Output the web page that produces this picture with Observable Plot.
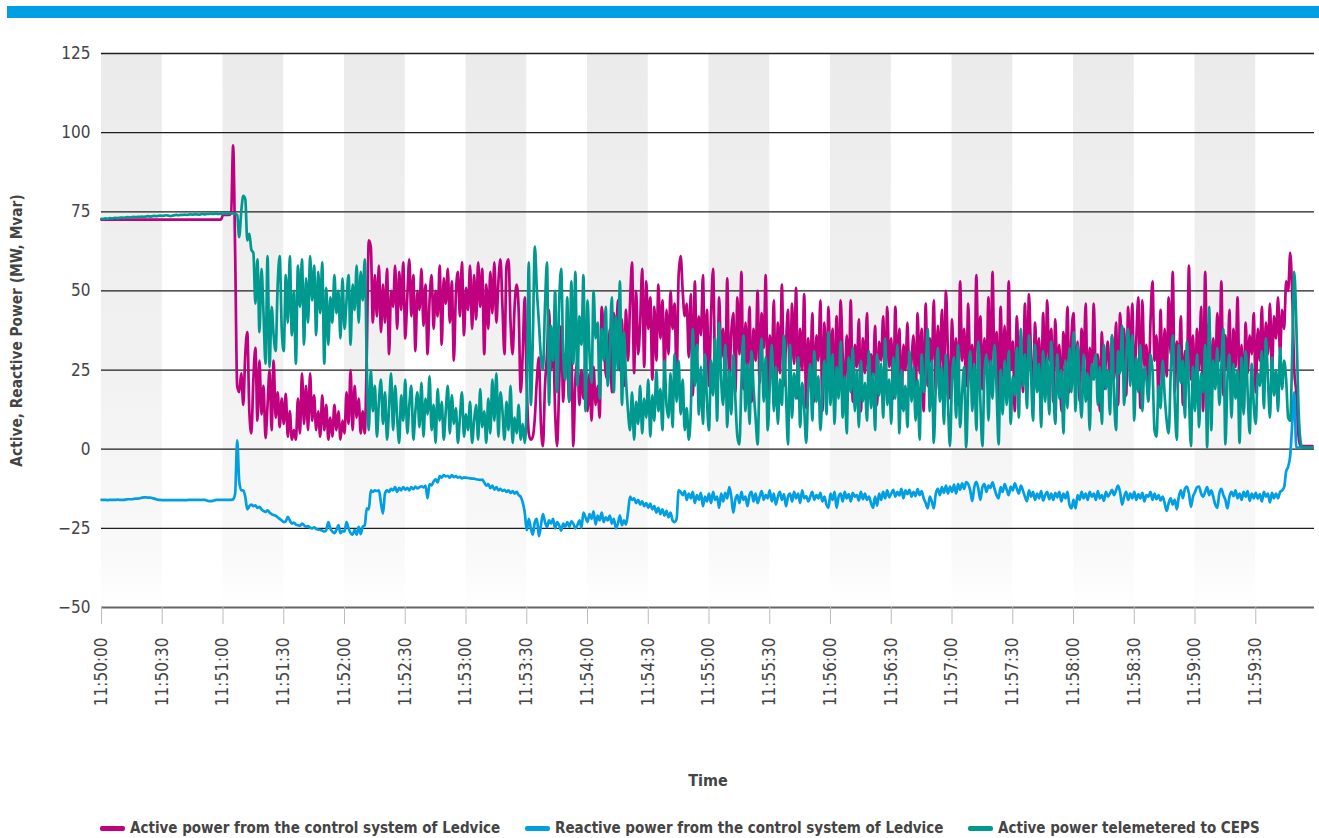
<!DOCTYPE html>
<html><head><meta charset="utf-8">
<script src="https://cdn.jsdelivr.net/npm/d3@7"></script>
<script src="https://cdn.jsdelivr.net/npm/@observablehq/plot@0.6"></script>
<style>
body{margin:0;background:#fff;font-family:"DejaVu Sans Condensed",sans-serif;}
#wrap{position:relative;width:1319px;height:838px;overflow:hidden;}
#bar{position:absolute;left:7px;top:6px;width:1312px;height:12px;background:#009fe3;z-index:2;}
#chart{position:absolute;left:0;top:0;}
.leg{position:absolute;top:818px;height:20px;font-size:15px;font-weight:bold;color:#444;white-space:nowrap;line-height:20px;}
.sw{position:absolute;top:8px;width:25px;height:5px;border-radius:2px;}
.leg span.t{position:absolute;left:30px;top:0;}
g[aria-label="x-axis label"] text{font-weight:bold;font-size:16px;}
g[aria-label="y-axis label"] text{font-weight:bold;font-size:15.3px;}
</style></head><body>
<div id="wrap"><div id="bar"></div><div id="chart"></div><div id="legend"></div></div>
<script>
const startTime = "11:50:00";
const endTime = "11:59:59";
const sampleSeconds = 1;
const tickLabels = ["11:50:00","11:50:30","11:51:00","11:51:30","11:52:00","11:52:30","11:53:00","11:53:30","11:54:00","11:54:30","11:55:00","11:55:30","11:56:00","11:56:30","11:57:00","11:57:30","11:58:00","11:58:30","11:59:00","11:59:30"];
const stripeStarts = ["11:50:00","11:51:00","11:52:00","11:53:00","11:54:00","11:55:00","11:56:00","11:57:00","11:58:00","11:59:00"];
const yTicks = [-50,-25,0,25,50,75,100,125];
const seriesNames = ["Active power from the control system of Ledvice","Reactive power from the control system of Ledvice","Active power telemetered to CEPS"];
const seriesColors = ["#bf007f","#009fe3","#00998f"];

const activeLedvice = [
72.5,72.5,72.5,72.5,72.5,72.5,72.5,72.5,72.5,72.5,
72.5,72.5,72.5,72.5,72.5,72.5,72.5,72.5,72.5,72.5,
72.5,72.5,72.5,72.5,72.5,72.5,72.5,72.5,72.5,72.5,
72.5,72.5,72.5,72.5,72.5,72.5,72.5,72.5,72.5,72.5,
72.5,72.5,72.5,72.5,72.5,72.5,72.5,72.5,72.5,72.5,
72.5,72.5,72.5,72.5,72.5,72.5,72.5,72.5,72.5,72.5,
74,74,74,74,74.5,96,62,20,18,24,
14,30,37,12,5,22,32,9,28,11,
20,3.5,14,25,6,28,10,18,7,16,
8,17.5,4,12,3,6,3,16,5,24,
8,20,6,24,9,17,6,12,4,17,
6,14,3,10,4,14,6,12,3,9,
5,18,8,25,6,20,10,16,5,12,
5,30,66,64,40,55,42,58,37,52,
40,57,30,50,45,58,38,56,44,59,
35,48,60,42,55,31,50,44,57,39,
52,30,47,55,38,50,42,58,33,54,
46,57,40,53,28,49,56,42,59,36,
51,44,58,38,55,41,59,45,57,30,
52,38,56,43,59,40,53,60,45,30,
58,60,40,30,45,52,44,18,30,48,
20,5,3,4,10,22,29,8,1,20,
30,44,25,35,12,1,20,39,15,30,
27,15,30,1,22,28,14,25,16,28,
12,24,9,26,14,20,10,45,36,24,
22,38,18,43,30,47,25,41,20,44,
28,46,59,24,50,30,40,57,26,53,
38,48,22,45,28,52,35,47,24,44,
30,50,38,46,22,55,61,50,42,46,
29,49,17,53,30,42,36,55,27,44,
20,42,57,25,16,48,29,38,20,54,
22,37,43,18,48,30,56,19,40,26,
45,15,38,28,50,21,43,32,55,17,
36,26,47,14,40,24,52,20,33,44,
18,46,27,51,16,38,25,49,13,35,
22,43,15,36,28,47,12,40,19,45,
24,38,14,42,20,47,30,18,36,22,
47,15,33,26,41,12,35,24,43,17,
30,22,39,14,34,28,42,18,45,26,
35,16,45,22,38,13,33,25,40,19,
28,36,15,43,24,38,12,46,20,35,
27,47,18,39,25,44,21,50,30,16,
41,24,35,14,53,28,38,20,46,25,
33,15,55,30,42,19,35,24,48,20,
56,26,37,15,45,22,39,18,53,25,
34,12,42,28,36,18,46,22,49,30,
17,40,26,35,14,43,20,47,28,38,
15,41,24,33,12,37,26,45,18,36,
43,20,34,15,38,27,46,17,32,22,
46,25,30,12,37,19,28,34,16,36,
22,40,14,43,29,38,17,45,25,46,
20,35,48,13,47,26,33,18,40,53,
28,36,15,44,20,38,23,48,30,56,
18,34,26,42,14,31,24,58,22,36,
16,38,25,45,12,56,29,40,19,35,
23,43,28,53,17,36,25,44,14,38,
26,48,20,33,12,40,24,36,30,43,
18,38,28,45,22,40,30,46,25,42,
35,48,30,44,38,53,50,62,49,25,
18,5,1,1,1,1,1,1,1
];

const reactiveLedvice = [
-16,-16,-16,-16.1,-16,-16,-16,-16,-15.9,-16,
-16,-16,-15.9,-15.8,-15.8,-15.8,-15.7,-15.6,-15.6,-15.5,
-15.3,-15.2,-15.2,-15.3,-15.3,-15.4,-15.6,-15.8,-16,-16,
-16.1,-16.1,-16.1,-16.1,-16.1,-16.1,-16.1,-16.1,-16.1,-16.1,
-16.1,-16.1,-16.1,-16,-16,-16,-16,-16,-16,-16,
-16,-16,-16.2,-16.4,-16.4,-16.3,-16.1,-16,-16,-16,
-16,-16,-16,-16,-16,-15.8,-14,2.8,-10,-13,
-13,-15,-19,-18,-17.5,-18,-17.7,-18.5,-18.2,-19,
-19.5,-19.8,-19.3,-20,-20.5,-20.8,-21,-21.5,-22,-22.5,
-23,-22.8,-21.4,-22.5,-23.5,-23.2,-23.8,-24,-24.2,-23.5,
-24,-24.5,-24.3,-24.8,-25,-24.7,-25.2,-25.4,-25.5,-25.7,
-26,-25.5,-23,-25,-26,-26.5,-25.5,-24,-26.5,-25.8,
-26,-23,-25,-26.5,-27,-25.5,-27,-24.5,-26.8,-24.5,
-24,-18.7,-19,-13,-13.5,-13,-13.2,-13,-17,-20.3,
-14,-13,-13.5,-12.5,-13,-12,-13.5,-12.2,-13,-12,
-12.8,-12.2,-13,-12,-12.6,-11.8,-12.4,-12,-11.7,-12.1,
-11.5,-15.5,-11,-11.4,-10.2,-9.5,-10.5,-8.5,-9,-8.2,
-8.6,-8.4,-9,-8.2,-8.8,-8.5,-9,-8.7,-9.2,-8.9,
-9,-9.1,-9.2,-9.3,-9.3,-9.5,-9.6,-9.7,-9.6,-10.5,
-11.5,-11,-12.3,-11.5,-12.8,-12,-13,-12.5,-13.2,-12.8,
-13.5,-13,-13.8,-13.2,-14,-13.5,-14.5,-15,-16.8,-20,
-25.6,-22,-25,-27,-23,-22,-27.5,-24,-20.5,-23,
-24.6,-22.5,-23.5,-22,-25,-23,-24,-25.7,-23.5,-24.5,
-23,-24.5,-22.8,-23.5,-25,-24,-22.5,-24.8,-20,-21.5,
-23,-20.5,-22,-19.6,-23.8,-21,-22.5,-20,-23,-21.5,
-22.5,-21,-23.5,-22,-25,-23.5,-21,-24,-22.5,-23.8,
-20,-15,-16,-15.5,-17,-16,-17.5,-16.5,-18,-17,
-18.5,-17.2,-19,-18,-20,-18.5,-20.5,-19,-21,-19.5,
-21.5,-20,-22.5,-23,-22,-13,-13.5,-14.5,-13.2,-16,
-14,-15.5,-13.5,-17,-14.5,-16,-13.8,-18,-15,-16.5,
-14,-17,-13.5,-16,-15,-18.5,-14,-16.5,-13.8,-15.5,
-12,-15,-20,-16,-14.5,-17,-13.5,-16,-15,-18,
-14.5,-13.5,-16.5,-14,-17,-15,-13.2,-16,-14.5,-15.5,
-13,-16.5,-14,-17.5,-15,-13.5,-16,-14.2,-18,-15,
-14,-16.5,-13.5,-15.5,-14,-17,-13,-15.5,-14.8,-16.5,
-15,-13.5,-16,-14.5,-15.5,-13.8,-16.5,-15,-17.5,-18.5,
-14,-16,-13.5,-18.5,-15,-14,-16.5,-13.5,-15.5,-14.2,
-16.5,-13.8,-15,-14.5,-16.2,-13.5,-15.8,-14,-16,-15,
-17,-18.5,-15,-17.8,-14,-16,-13.5,-15.5,-13,-15.2,
-14,-12.8,-15,-13.5,-14.6,-12.5,-15.5,-13,-14.2,-12.8,
-15,-13.5,-14.8,-12.6,-14.5,-13.2,-15.5,-17,-18.7,-15,
-16.5,-18.7,-14,-12.5,-14.5,-12,-13.8,-11.5,-14,-11.8,
-13.5,-11.2,-14,-11,-12.8,-10.8,-12.5,-10.4,-11,-13,
-16.4,-12,-10.3,-12.5,-16,-12,-11,-13.5,-11.5,-12.2,
-10.5,-12.5,-14.5,-15.5,-12,-13.5,-11,-12.8,-14.5,-11.8,
-13,-10.8,-12.5,-14,-11.5,-13,-15,-16.4,-13,-15,
-13.5,-16,-14,-15.5,-13.2,-16.2,-14.5,-13.5,-15.8,-14,
-16,-13.8,-15.2,-13.5,-16.5,-14,-15.5,-13.5,-17.5,-18.7,
-16,-18.7,-14.5,-16,-13.5,-15.5,-14,-16,-13.5,-15,
-14,-16,-13.2,-15.5,-14.5,-16.3,-13.5,-15,-14,-12.8,
-14.5,-13,-11.5,-13.5,-17.5,-15,-13.5,-16,-14,-15.5,
-13.5,-16,-14.2,-15.5,-13.8,-16.5,-14.5,-15,-13.5,-16,
-14,-15.8,-14.5,-16.2,-15,-17,-19.5,-17,-15.5,-17.5,
-16,-19,-15,-13,-15.5,-12.5,-11.8,-14,-18.2,-15,
-13.5,-12,-11.8,-14,-15,-13.5,-12,-14.5,-13,-15,
-17.5,-18.5,-14,-12.5,-14.5,-16,-18.7,-15,-13.5,-14.8,
-13,-15.5,-14,-16,-13.5,-15,-13.2,-16.3,-14,-15.5,
-13.8,-15.6,-14.2,-16.5,-13.5,-15,-14,-16.8,-13.8,-15.5,
-14,-15.5,-13.5,-13,-12,-7,-5.5,-2,8,18,
0.5,0.5,0.5,0.5,0.5,0.5,0.5,0.5,0.5
];

const activeCeps = [
72.8,72.8,72.9,72.8,73,72.9,73,73.1,73,73.1,
73.2,73.1,73.2,73.3,73.2,73.3,73.4,73.3,73.4,73.4,
73.5,73.4,73.5,73.6,73.5,73.6,73.7,73.6,73.7,73.8,
73.7,73.8,73.9,73.8,73.6,73.8,73.9,74,73.9,74,
74,74.1,74,74.1,74.2,74.1,74.2,74.2,74.1,74.2,
74.3,74.2,74.3,74.3,74.4,74.3,74.4,74.4,74.3,74.4,
74.4,74.5,74.4,74.5,74.5,74.5,74.4,74,67,75,
80,79,66,68,63,62,46,60,37,57,
43,27,61,26,45,36,31,52,61,38,
31,55,40,61,36,50,27,58,45,60,
33,54,40,61,47,58,36,56,43,59,
27,51,33,48,40,55,43,50,35,54,
38,47,55,33,52,44,58,40,56,47,
60,27,6,25,12,20,4,15,22,8,
18,3,13,24,6,20,10,2,17,9,
22,5,14,20,3,12,18,7,21,4,
16,11,23,6,14,2,19,9,15,3,
12,20,5,17,8,13,2,10,18,4,
11,6,15,2,9,14,3,19,7,12,
2,16,5,22,9,24,4,18,12,3,
15,6,20,2,10,5,14,3,8,2,
15,59,14,35,64,50,40,29,25,45,
59,14,39,28,50,18,46,57,30,22,
48,15,53,27,56,20,42,33,55,12,
47,30,21,50,35,40,16,38,28,45,
20,31,48,18,42,25,53,14,37,22,
12,6,18,3,15,8,20,5,16,10,
22,4,17,9,25,12,19,6,28,14,
10,24,7,30,15,28,11,22,6,13,
3,12,38,20,33,11,26,8,30,15,
6,28,17,35,9,40,22,14,33,7,
25,11,30,16,4,1.5,21,36,12,27,
8,31,19,10,1.5,24,35,15,29,6,
20,33,12,26,8,22,14,36,18,1.5,
33,10,24,16,29,7,21,13,2,19,
27,9,31,15,23,6,18,28,11,37,
14,30,8,26,16,34,10,23,5,29,
18,32,12,25,7,28,15,21,9,31,
13,24,6,30,17,27,10,35,14,22,
8,29,16,33,5,25,12,20,7,31,
15,26,9,22,3,30,18,24,38,12,
28,2,20,32,15,26,8,30,14,1,
22,29,10,33,7,18,26,0.5,20,31,
12,27,6,34,15,1,24,30,9,28,
16,33,19,1.5,25,11,28,14,31,8,
23,17,32,10,38,20,30,13,36,24,
9,33,18,27,7,31,15,29,11,34,
20,8,30,16,25,5,28,13,32,18,
37,12,33,20,10,30,15,24,6,27,
22,30,14,26,8,33,19,25,11,36,
17,6,31,24,39,14,28,38,20,36,
9,29,18,33,12,26,22,15,30,25,
6,4,20,13,28,17,9,5,24,36,
15,3,33,21,28,10,34,17,1,26,
12,30,7,24,18,33,0.5,45,6,28,
19,32,14,26,38,1.5,22,30,10,27,
16,25,2,29,11,31,18,5,27,14,
8,24,20,31,13,35,22,10,29,17,
25,12,32,19,28,22,10,9,30,56,
40,15,3,0.5,0.5,0.5,0.5,0.5,0.5
];

const toDate = s => { const [h,m,sec] = s.split(":").map(Number); return new Date(Date.UTC(2020,0,1,h,m,sec)); };
const t0 = toDate(startTime);
const rows = (vals, name) => vals.map((v,i)=>({time:new Date(+t0 + i*sampleSeconds*1000), value:v, series:name}));
const allSeries = [activeLedvice, reactiveLedvice, activeCeps].map((vals,k)=>rows(vals, seriesNames[k]));
const stripes = stripeStarts.map(s => ({x1: toDate(s), x2: new Date(+toDate(s) + 30000)}));
const tickDates = tickLabels.map(toDate);
const fontFam = "'DejaVu Sans Condensed',sans-serif";

const chart = Plot.plot({
  width: 1319, height: 800,
  marginLeft: 101, marginRight: 5, marginTop: 53, marginBottom: 193,
  style: {fontFamily: fontFam, fontSize: "17px", color: "#444", background: "transparent", overflow: "visible"},
  x: {type: "utc", domain: [toDate(startTime), toDate(endTime)]},
  y: {domain: [-50, 125]},
  marks: [
    Plot.rect(stripes, {x1: "x1", x2: "x2", y1: -50, y2: 125, fill: "url(#stripeFade)"}),
    Plot.ruleY(yTicks.filter(d => d > -50), {stroke: "#1e1e1e", strokeWidth: 1.3}),
    Plot.ruleY([-50], {stroke: "#666", strokeWidth: 2}),
    Plot.axisX({ticks: tickDates, tickFormat: d3.utcFormat("%H:%M:%S"), tickRotate: -90, tickSize: 17, tickPadding: 13, stroke: "#bbb", fill: "#444", label: "Time", labelAnchor: "center", labelOffset: 178, labelArrow: "none"}),
    Plot.axisY({ticks: yTicks, tickSize: 0, tickPadding: 11, fill: "#444", label: "Active, Reactive Power (MW, Mvar)", labelAnchor: "center", labelOffset: 90, labelArrow: "none", tickFormat: d => d < 0 ? "\u2212" + Math.abs(d) : String(d)}),
    ...allSeries.map((data, k) => Plot.line(data, {x: "time", y: "value", stroke: seriesColors[k], strokeWidth: 2.7, curve: "monotone-x", strokeLinejoin: "round", strokeLinecap: "round"}))
  ]
});

const svg = d3.select(chart);
const grad = svg.insert("defs", ":first-child").append("linearGradient")
  .attr("id", "stripeFade").attr("x1", 0).attr("y1", 0).attr("x2", 0).attr("y2", 1);
[[0, "#ebebeb"], [0.55, "#f1f1f1"], [0.72, "#f5f5f5"], [0.9, "#f9f9f9"], [0.97, "#fdfdfd"], [1, "#ffffff"]]
  .forEach(([o, c]) => grad.append("stop").attr("offset", o).attr("stop-color", c));

document.getElementById("chart").appendChild(chart);

const legendX = [100, 525, 968];
const leg = document.getElementById("legend");
seriesNames.forEach((name, k) => {
  const d = document.createElement("div");
  d.className = "leg";
  d.style.left = legendX[k] + "px";
  d.innerHTML = `<span class="sw" style="background:${seriesColors[k]}"></span><span class="t">${name}</span>`;
  leg.appendChild(d);
});
</script>
</body></html>
